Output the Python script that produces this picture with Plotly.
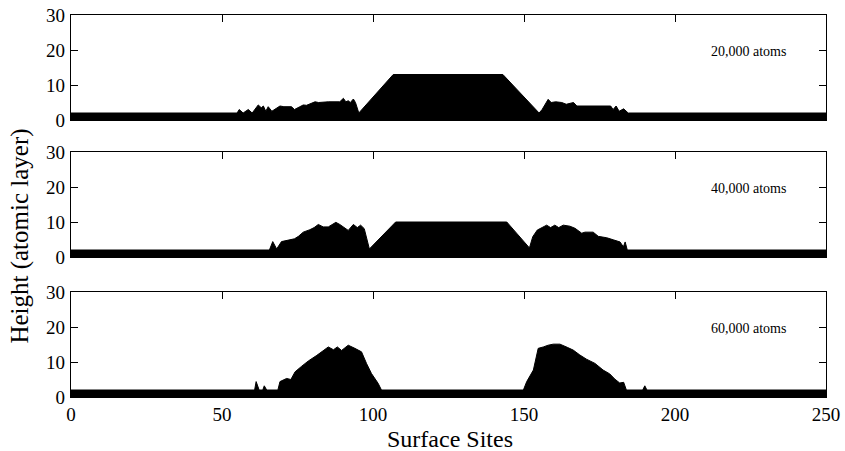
import plotly.graph_objects as go

# ---- data: profile vertices (surface site, height in atomic layers) ----
sites_20k = [0, 55, 55.7, 57, 58.7, 60, 62, 63, 63.7, 64.5, 65.3, 66.5, 69.2, 70.5, 73, 74, 75.8, 76.9, 78,
             80.8, 82, 85.2, 89, 90.2, 91, 91.8, 92.5, 93.5, 94.2, 95.3, 106.7, 143, 155, 156, 158, 159,
             160.5, 162.5, 164, 166.4, 167.5, 169.3, 178.7, 179.5, 180.5, 181.5, 183, 184.5, 250]
height_20k = [2, 2, 3, 2, 3, 2, 4.3, 3.5, 4, 2.5, 3.8, 2.5, 4, 3.8, 3.8, 3, 3.8, 4.3, 4.2,
              5.2, 5, 5.2, 5.2, 6.2, 5.2, 5.5, 5, 6, 5, 2, 13, 13, 2, 3, 5.9, 5,
              5.2, 5, 4.5, 5, 4, 4, 4, 3, 4, 2.5, 3.2, 2, 2]

sites_40k = [0, 65.7, 66.8, 68.1, 69.7, 72.5, 74, 75.3, 76.9, 79.1, 80.5, 81.9, 83.5, 85.2, 86.5, 87.7,
             89, 90.2, 91.8, 93.5, 94.8, 95.9, 97.1, 98.8, 107.5, 144.3, 151.8, 152.9, 154.4, 157.5,
             158.8, 160.2, 161.5, 163, 165.2, 166.9, 169.1, 170.2, 172.9, 174.6, 177.4, 179.6, 181.8,
             182.9, 183.5, 184.2, 250]
height_40k = [2, 2, 4.4, 2.3, 4.4, 4.8, 5.2, 5.9, 7.1, 7.8, 8.4, 9.3, 8.6, 8.6, 9.3, 9.9,
              9.3, 8.6, 7.6, 9.3, 8.4, 9.1, 8.1, 2.3, 10, 10, 2.6, 5.8, 7.7, 9.1,
              8.4, 9.1, 8.4, 9.1, 8.8, 8.2, 6.8, 7.1, 7.1, 5.9, 5.5, 4.9, 4.3,
              2.9, 4.3, 2, 2]

sites_60k = [0, 60.8, 61.3, 62.3, 63.5, 64, 64.8, 68.5, 69.2, 71.4, 72.8, 74.2, 76.4, 78.6, 81.4, 83.5,
             85.2, 86.9, 88.2, 89.6, 91.8, 94, 96.2, 97.9, 99.5, 101.7, 102.8, 149.8, 150.9, 153.1,
             154.7, 156.4, 158, 159.7, 161.9, 164.3, 166.3, 168.5, 170.7, 173.5, 176.2, 178.4, 180.1,
             181.7, 183, 183.9, 189.3, 190, 190.7, 250]
height_60k = [2, 2, 4.4, 2, 2, 3.2, 2, 2, 4.4, 5.3, 5, 7.2, 8.8, 10.3, 11.9, 13.2,
              14.3, 13.5, 14.3, 13.3, 14.8, 13.9, 12.9, 9.5, 6.7, 3.9, 2, 2, 4.4, 7.7,
              13.9, 14.3, 14.8, 15.1, 15.1, 14.2, 13.4, 12, 10.8, 9.6, 7.7, 6.6, 5.1,
              4, 4.2, 2, 2, 3.2, 2, 2]

panel_labels = ["20,000 atoms", "40,000 atoms", "60,000 atoms"]
x_ticks = [0, 50, 100, 150, 200, 250]
y_ticks = [0, 10, 20, 30]

FONT = "Liberation Serif"
profiles = [(sites_20k, height_20k), (sites_40k, height_40k), (sites_60k, height_60k)]

fig = go.Figure()
H = 382.0
domains = [[277 / H, 1.0], [140 / H, 245 / H], [0.0, 105 / H]]

for i, (xs, ys) in enumerate(profiles):
    n = "" if i == 0 else str(i + 1)
    fig.add_trace(go.Scatter(x=xs, y=ys, mode="lines", fill="tozeroy",
                             fillcolor="black", line=dict(color="black", width=1),
                             xaxis="x" + n, yaxis="y" + n, showlegend=False,
                             hoverinfo="skip"))
    xa = dict(range=[0, 250], tickvals=x_ticks, ticks="inside", ticklen=7, tickwidth=1.3,
              tickcolor="black", showline=True, linecolor="black", linewidth=1.3,
              mirror="ticks", showgrid=False, zeroline=False, automargin=False,
              showticklabels=(i == 2), anchor="y" + n,
              tickfont=dict(family=FONT, size=19, color="black"))
    ya = dict(range=[0, 30], tickvals=y_ticks, ticks="inside", ticklen=7, tickwidth=1.3,
              tickcolor="black", showline=True, linecolor="black", linewidth=1.3,
              mirror="ticks", showgrid=False, zeroline=False, domain=domains[i],
              anchor="x" + n, ticklabelstandoff=1, automargin=False,
              tickfont=dict(family=FONT, size=19, color="black"))
    if i > 0:
        xa["matches"] = "x"
    fig.layout["xaxis" + n] = xa
    fig.layout["yaxis" + n] = ya
    fig.add_annotation(x=224.5, y=19.5, xref="x" + n, yref="y" + n, text=panel_labels[i],
                       showarrow=False, font=dict(family=FONT, size=14, color="black"))

fig.add_annotation(x=-0.0675, y=0.42, xref="paper", yref="paper", text="Height (atomic layer)",
                   textangle=-90, showarrow=False, xanchor="center", yanchor="middle",
                   font=dict(family=FONT, size=25, color="black"))
fig.add_annotation(x=0.502, y=-0.07, xref="paper", yref="paper", text="Surface Sites",
                   showarrow=False, xanchor="center", yanchor="top",
                   font=dict(family=FONT, size=24, color="black"))

fig.update_layout(width=845, height=451, margin=dict(l=71, r=19, t=15, b=54, autoexpand=False),
                  paper_bgcolor="white", plot_bgcolor="white")
# remove the default page margin so the 845x451 figure fills the window exactly
fig.write_html("out.html", config={"displayModeBar": False},
               post_script="document.body.style.margin='0';document.body.style.overflow='hidden';")
